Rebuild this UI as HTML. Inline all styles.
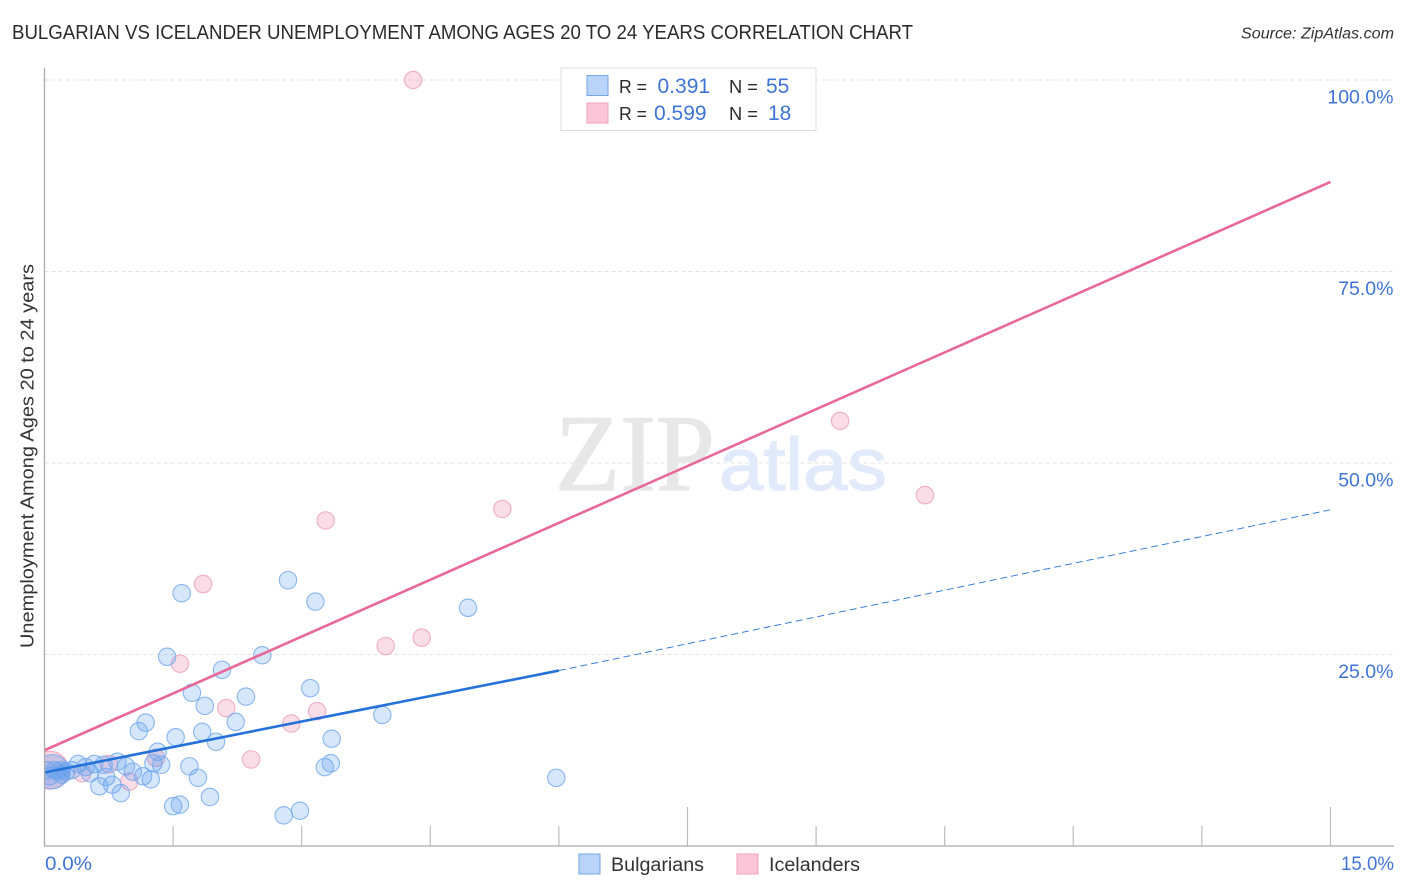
<!DOCTYPE html>
<html lang="en">
<head>
<meta charset="utf-8">
<title>Bulgarian vs Icelander Unemployment Correlation Chart</title>
<style>
html,body{margin:0;padding:0;background:#fff;width:1406px;height:892px;overflow:hidden}
svg{display:block;font-family:"Liberation Sans",sans-serif}
</style>
</head>
<body>
<svg id="chart" width="1406" height="892" viewBox="0 0 1406 892" xmlns="http://www.w3.org/2000/svg">
  <text x="12" y="39" font-size="20" fill="#2b2b2b" textLength="901" lengthAdjust="spacingAndGlyphs">BULGARIAN VS ICELANDER UNEMPLOYMENT AMONG AGES 20 TO 24 YEARS CORRELATION CHART</text>
  <text x="1241" y="38.5" font-size="15.5" font-style="italic" fill="#333" textLength="153" lengthAdjust="spacingAndGlyphs">Source: ZipAtlas.com</text>
  <g id="grid"></g>
  <g>
    <text x="555" y="490" font-family="'Liberation Serif',serif" font-size="109" fill="#e7e7e7" stroke="#e7e7e7" stroke-width="1.2" textLength="160" lengthAdjust="spacingAndGlyphs">ZIP</text>
    <text x="719" y="490" font-size="74" fill="#e0eafa" stroke="#e0eafa" stroke-width="1.2" textLength="168" lengthAdjust="spacingAndGlyphs">atlas</text>
  </g>
  <g id="points"></g>
  <rect x="0" y="735" width="44.5" height="70" fill="#fff"/>
  <g id="lines"></g>
  <g id="axes"></g>
  <g id="ylabels"></g>
  <text transform="translate(33.5,648) rotate(-90)" font-size="18.5" fill="#333" textLength="384" lengthAdjust="spacingAndGlyphs">Unemployment Among Ages 20 to 24 years</text>
  <text x="45" y="870" font-size="19" fill="#3f74d6" textLength="47" lengthAdjust="spacingAndGlyphs">0.0%</text>
  <text x="1341" y="870" font-size="19" fill="#3f74d6" textLength="53" lengthAdjust="spacingAndGlyphs">15.0%</text>

  <g>
    <rect x="561" y="68" width="255" height="62.5" fill="#fff" stroke="#dcdcdc" stroke-width="1"/>
    <rect x="587" y="75.5" width="21" height="20" fill="#b9d4f8" stroke="#75a6e6" stroke-width="1"/>
    <rect x="587" y="103" width="21" height="20" fill="#fcc6d8" stroke="#f0a3bd" stroke-width="1"/>
    <text x="619" y="93" font-size="18.5" fill="#2b2b2b" textLength="28" lengthAdjust="spacingAndGlyphs">R =</text>
    <text x="657.5" y="93" font-size="21" fill="#3f74d6">0.391</text>
    <text x="729" y="93" font-size="18.5" fill="#2b2b2b" textLength="29" lengthAdjust="spacingAndGlyphs">N =</text>
    <text x="766" y="93" font-size="21" fill="#3f74d6">55</text>
    <text x="619" y="120" font-size="18.5" fill="#2b2b2b" textLength="28" lengthAdjust="spacingAndGlyphs">R =</text>
    <text x="654" y="120" font-size="21" fill="#3f74d6">0.599</text>
    <text x="729" y="120" font-size="18.5" fill="#2b2b2b" textLength="29" lengthAdjust="spacingAndGlyphs">N =</text>
    <text x="768" y="120" font-size="21" fill="#3f74d6">18</text>
  </g>

  <g>
    <rect x="579" y="854" width="21" height="20" fill="#b9d4f8" stroke="#75a6e6" stroke-width="1"/>
    <text x="611" y="871" font-size="19" fill="#333" textLength="93" lengthAdjust="spacingAndGlyphs">Bulgarians</text>
    <rect x="737" y="854" width="21" height="20" fill="#fcc6d8" stroke="#f0a3bd" stroke-width="1"/>
    <text x="769" y="871" font-size="19" fill="#333" textLength="91" lengthAdjust="spacingAndGlyphs">Icelanders</text>
  </g>
</svg>
<script>
const yTickValues = [25, 50, 75, 100];
const yTickLabels = ['25.0%', '50.0%', '75.0%', '100.0%'];
const xTickValues = [1.5, 3, 4.5, 6, 7.5, 9, 10.5, 12, 13.5, 15];
const xMajorTicks = [7.5, 15];

const bulgariansX = [0.09,1.43,1.60,2.84,3.16,4.94,2.54,2.07,1.72,3.10,2.35,1.87,1.18,2.23,3.94,1.10,1.53,1.84,2.00,3.35,1.32,1.27,1.36,1.69,1.79,1.93,1.50,1.58,2.79,2.98,3.27,3.34,5.97,1.24,1.15,1.03,0.95,0.85,0.58,0.39,0.48,0.72,0.79,0.64,0.89,0.53,0.32,0.20,0.12,0.06,0.25,0.16,0.03,0.69,0.20];
const bulgariansY = [9.7,24.7,33.0,34.7,31.9,31.1,24.9,23.0,20.0,20.6,19.5,18.3,16.1,16.2,17.1,15.0,14.2,14.9,13.6,14.0,12.3,10.8,10.6,10.4,8.9,6.4,5.2,5.4,4.0,4.6,10.3,10.8,8.9,8.7,9.1,9.7,10.4,11.0,10.7,10.7,10.3,9.0,8.0,7.8,6.9,9.5,9.9,9.3,9.9,9.1,9.7,9.7,9.9,10.6,9.9];
const icelandersX = [0.06,4.30,9.28,10.27,5.34,3.28,1.85,1.58,2.12,3.18,2.88,2.41,3.98,4.40,1.30,0.99,0.75,0.44];
const icelandersY = [9.9,100.0,55.5,45.8,44.0,42.5,34.2,23.8,18.0,17.6,16.0,11.3,26.1,27.2,11.5,8.4,10.7,9.5];

const bulgariansTrendX = [0, 6];
const bulgariansTrendY = [9.6, 22.9];
const bulgariansForecastX = [6, 15];
const bulgariansForecastY = [22.9, 43.9];
const icelandersTrendX = [0, 15];
const icelandersTrendY = [12.5, 86.7];

const NS = 'http://www.w3.org/2000/svg';
const xScale = v => 44.5 + v * 85.73;
const yScale = v => 846 - v * 7.66;
const make = (tag, attrs) => {
  const el = document.createElementNS(NS, tag);
  for (const k in attrs) el.setAttribute(k, attrs[k]);
  return el;
};

const grid = document.getElementById('grid');
const ylabels = document.getElementById('ylabels');
yTickValues.forEach((v, i) => {
  const line = make('line', {x1: 44.5, x2: 1394, y1: yScale(v), y2: yScale(v), stroke: '#e2e2e2', 'stroke-width': 1, 'stroke-dasharray': '4 3'});
  
  
  grid.appendChild(line);
  const label = make('text', {x: 1393.5, y: yScale(v) + 23.5, 'text-anchor': 'end', 'font-size': 19.5, fill: '#3f74d6'});
  
  
  label.textContent = yTickLabels[i];
  ylabels.appendChild(label);
});

const axes = document.getElementById('axes');
const yAxis = make('line', {x1: 44.5, x2: 44.5, y1: 68, y2: 846.5, stroke: '#aaa', 'stroke-width': 1.3});


axes.appendChild(yAxis);
const xAxis = make('line', {x1: 44, x2: 1394, y1: 846, y2: 846, stroke: '#aaa', 'stroke-width': 1.3});


axes.appendChild(xAxis);
xTickValues.forEach(v => {
  const top = xMajorTicks.includes(v) ? 807 : 826;
  const tick = make('line', {x1: xScale(v), x2: xScale(v), y1: top, y2: 846, stroke: '#bcbcbc', 'stroke-width': 1.2});
  
  
  axes.appendChild(tick);
});

const points = document.getElementById('points');
const NORMAL_R = 8.7;
const drawSeries = (xs, ys, fill, stroke, bigR, fillOp, bigOp, name) => {
  xs.forEach((x, i) => {
    const c = make('circle', {cx: xScale(x), cy: yScale(ys[i]), r: i === 0 ? bigR : NORMAL_R, fill: fill, 'fill-opacity': i === 0 ? bigOp : fillOp, stroke: stroke, 'stroke-width': 1.1, 'stroke-opacity': 0.85});
    
    
    points.appendChild(c);
  });
};
drawSeries(icelandersX, icelandersY, '#f090b0', '#eea0bb', 19, 0.3, 0.4, 'icelander-point');
drawSeries(bulgariansX, bulgariansY, '#5b9bf0', '#76aaec', 17, 0.25, 0.3, 'bulgarian-point');

const lines = document.getElementById('lines');
const bTrend = make('line', {x1: xScale(bulgariansTrendX[0]), y1: yScale(bulgariansTrendY[0]), x2: xScale(bulgariansTrendX[1]), y2: yScale(bulgariansTrendY[1]), stroke: '#2472d8', 'stroke-width': 2.6});


lines.appendChild(bTrend);
const bForecast = make('line', {x1: xScale(bulgariansForecastX[0]), y1: yScale(bulgariansForecastY[0]), x2: xScale(bulgariansForecastX[1]), y2: yScale(bulgariansForecastY[1]), stroke: '#2472d8', 'stroke-width': 0.9, 'stroke-dasharray': '7 4'});


lines.appendChild(bForecast);
const iTrend = make('line', {x1: xScale(icelandersTrendX[0]), y1: yScale(icelandersTrendY[0]), x2: xScale(icelandersTrendX[1]), y2: yScale(icelandersTrendY[1]), stroke: '#e8689a', 'stroke-width': 2.6});


lines.appendChild(iTrend);
</script>
</body>
</html>
